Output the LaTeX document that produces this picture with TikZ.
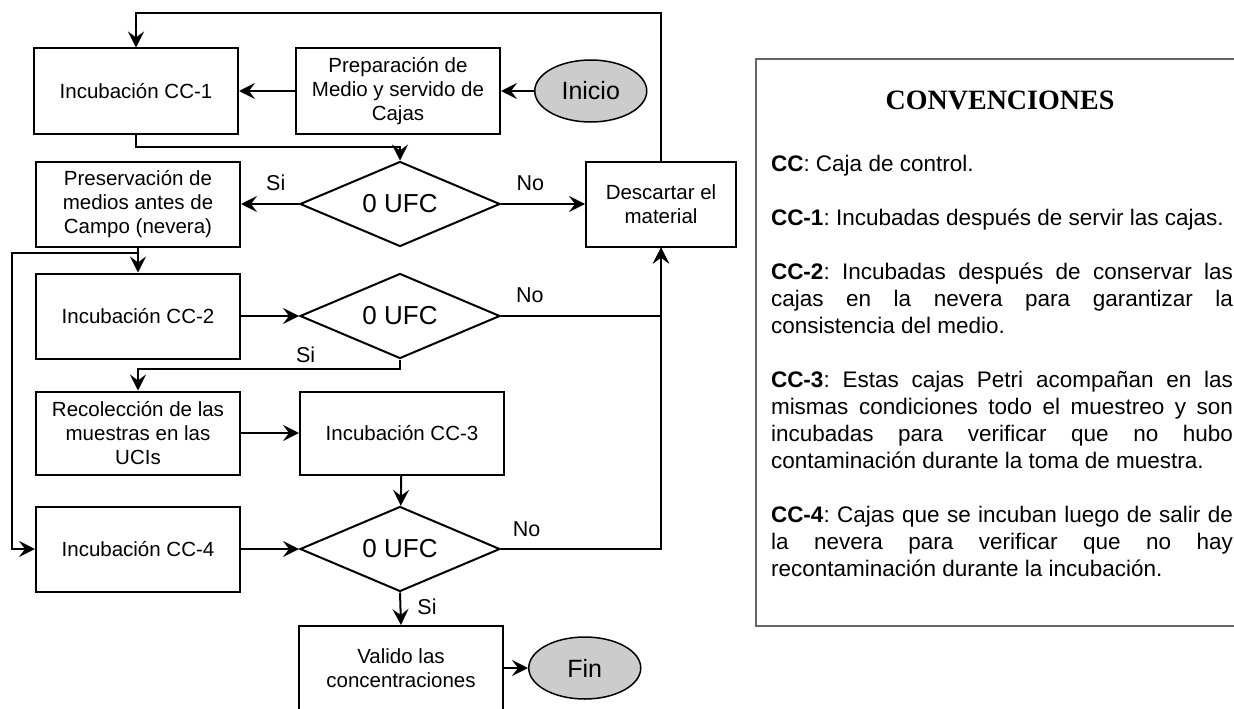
\documentclass[tikz,border=0pt]{standalone}
\usepackage{fontspec}
\setmainfont{Liberation Sans}
\newfontfamily\convfont{Liberation Serif}
\usetikzlibrary{positioning,shapes.geometric,arrows.meta}

\begin{document}
\begin{tikzpicture}[x=1pt,y=-1pt,
    line width=2pt,
    box/.style={rectangle,draw,minimum width=204pt,minimum height=85pt,
      align=center,inner sep=2pt,font=\fontsize{20.5}{24}\selectfont},
    test/.style={diamond,draw,minimum width=200pt,minimum height=85pt,
      aspect=2.35,inner sep=0pt,font=\fontsize{26}{30}\selectfont},
    term/.style={ellipse,draw,line width=1.5pt,fill=black!20,
      minimum width=112pt,minimum height=62pt,font=\fontsize{25}{30}\selectfont},
    lbl/.style={font=\fontsize{21.5}{24}\selectfont,inner sep=0pt},
    arr/.style={-{Stealth[length=16pt,width=16pt,inset=6pt]}}
    ]
    \useasboundingbox (0,0) rectangle (1234,709);
    \clip (0,0) rectangle (1234,709);

    % flow chart
    \node[box] (cc1) at (136,91) {Incubación CC-1};
    \node[box] (prep) at (398,91) {Preparación de\\Medio y servido de\\Cajas};
    \node[term] (inicio) [right = 33pt of prep] {Inicio};
    \node[test] (dec1) at (400,204) {0 UFC};
    \node[box] (pres) at (138,204) {Preservación de\\medios antes de\\Campo (nevera)};
    \node[box,minimum width=150pt] (desc) at (661,204) {Descartar el\\material};
    \node[box] (cc2) at (138,316) {Incubación CC-2};
    \node[test] (dec2) at (400,316) {0 UFC};
    \node[box,minimum height=83pt] (rec) at (138,433) {Recolección de las\\muestras en las\\UCIs};
    \node[box,minimum height=83pt] (cc3) at (402,433) {Incubación CC-3};
    \node[test] (dec3) at (400,549) {0 UFC};
    \node[box] (cc4) at (138,549) {Incubación CC-4};
    \node[box,minimum height=84pt] (val) at (401,668) {Valido las\\concentraciones};
    \node[term] (fin) [right = 24pt of val] {Fin};
    \coordinate (back) at (661,13);

    \draw[arr] (inicio) -- (prep);
    \draw[arr] (prep) -- (cc1);
    \draw[arr] (cc1.south) -- ++(0,12) -| (dec1.north);
    \draw[arr] (dec1.west) -- node[lbl,above=12pt,pos=0.4] {Si} (pres.east);
    \draw[arr] (dec1.east) -- node[lbl,above=12pt,pos=0.35] {No} (desc.west);
    \draw[arr] (desc.north) -- (back) -| (cc1.north);
    \draw[arr] (pres.south) -- (cc2.north);
    \draw[arr] (pres.south) ++(0,5) -- ++(-126,0) |- (cc4.west);
    \draw[arr] (cc2) -- (dec2);
    \draw[arr] (dec2.east) -| node[lbl,above=12pt,pos=0.09] {No} (desc.south);
    \draw[arr] (dec2.south) -- ++(0,9) -| node[lbl,above=5pt,pos=0.18] {Si} (rec.north);
    \draw[arr] (rec) -- (cc3);
    \draw[arr] (cc3) -- (dec3);
    \draw[arr] (cc4) -- (dec3);
    \draw[arr] (dec3.east) -| node[lbl,above=11pt,pos=0.08] {No} (desc.south);
    \draw[arr] (dec3.south) -- node[lbl,right=16pt,pos=0.45] {Si} (val.north);
    \draw[arr] (val) -- (fin);

    % legend
    \draw[black!60,line width=1.5pt] (756,59) rectangle (1260,626);
    \node[font={\convfont\bfseries\fontsize{28}{32}\selectfont}] (conv) at (1000,100) {CONVENCIONES};
    \node[anchor=north west,inner sep=0pt,text width=462pt,align=justify,
      font=\fontsize{22.5}{27}\selectfont] (notes) at (770,154) {\sloppy\frenchspacing
      \textbf{CC}: Caja de control.\\[27pt]
      \textbf{CC-1}: Incubadas después de servir las cajas.\\[27pt]
      \textbf{CC-2}: Incubadas después de conservar las\linebreak
      cajas en la nevera para garantizar la\linebreak
      consistencia del medio.\\[27pt]
      \textbf{CC-3}: Estas cajas Petri acompañan en las\linebreak
      mismas condiciones todo el muestreo y son\linebreak
      incubadas para verificar que no hubo\linebreak
      contaminación durante la toma de muestra.\\[27pt]
      \textbf{CC-4}: Cajas que se incuban luego de salir de\linebreak
      la nevera para verificar que no hay\linebreak
      recontaminación durante la incubación.};
\end{tikzpicture}
\end{document}
